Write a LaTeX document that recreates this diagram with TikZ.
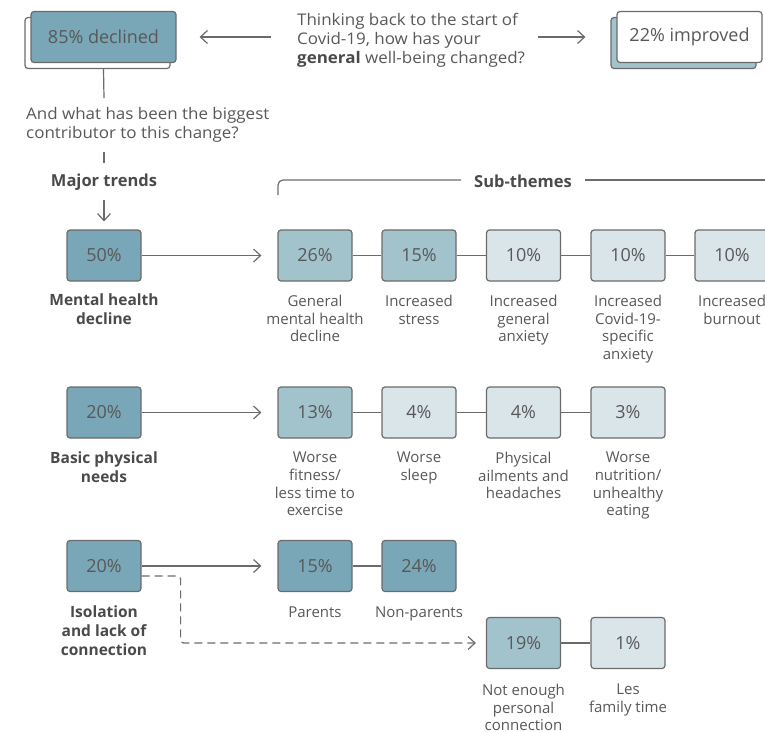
\documentclass[tikz,border=0pt]{standalone}
\usepackage{fontspec}
\setmainfont{Open Sans}
\newfontfamily\widefont{Open Sans}[FakeStretch=1.06]
\usetikzlibrary{arrows.meta}
\definecolor{tealdark}{HTML}{7AA7B7}
\definecolor{tealmid}{HTML}{A3C3CC}
\definecolor{teallight}{HTML}{DAE5EA}
\definecolor{edge}{HTML}{6B6B6B}
\definecolor{ink}{HTML}{585858}
\definecolor{inkbold}{HTML}{4A4A4A}
\begin{document}
\begin{tikzpicture}[x=1pt,y=-1pt,
  box/.style={draw=edge, line width=1.2pt, rounded corners=3pt,
    minimum width=74pt, minimum height=51pt, inner sep=0pt, text=ink,
    font=\fontsize{18}{20}\selectfont},
  widebox/.style={box, minimum width=145pt},
  dark/.style={box, fill=tealdark},
  mid/.style={box, fill=tealmid},
  light/.style={box, fill=teallight},
  lbl/.style={align=center, text=ink, inner sep=0pt, anchor=north,
    font=\fontsize{15}{17.6}\selectfont},
  major/.style={lbl, text=inkbold, font=\bfseries\fontsize{15.5}{18.7}\selectfont},
  head/.style={inner sep=0pt, anchor=base, text=inkbold,
    font=\bfseries\fontsize{16.5}{20}\selectfont},
  txt/.style={align=left, text=ink, inner sep=0pt, anchor=north west,
    font=\widefont\fontsize{16}{18.7}\selectfont},
  conn/.style={draw=edge, line width=1.2pt},
  tip/.style={conn, -{Straight Barb[length=7pt,width=13pt]}},
  dashconn/.style={tip, dash pattern=on 8pt off 5pt, rounded corners=3pt}
]
\useasboundingbox (0,0) rectangle (765,731);

% ---- headline question with the two outcomes ----
\node[widebox, fill=white] (decsh) at (97.5,43) {};
\node[widebox, fill=tealdark] (dec) at (103.5,37) {85\% declined};
\node[widebox, fill=tealmid] (impsh) at (683.5,43) {};
\node[widebox, fill=white] (imp) at (689.5,37) {22\% improved};
\node[txt] (q) at (297,13.5) {Thinking back to the start of\\Covid-19, how has your\\{\bfseries\color{inkbold}general} well-being changed?};
\draw[tip, shorten <=26pt, shorten >=23pt] (q.west |- dec.east) -- (dec.east);
\draw[tip, shorten <=13pt, shorten >=31pt] (q.east |- imp.west) -- (imp.west);

% ---- follow-up question ----
\node[txt] (q2) at (26,107) {And what has been the biggest\\contributor to this change?};
\coordinate (qtop) at (104,98);
\draw[conn] (decsh.south -| dec.south) -- (qtop);
\node[head] (mt) at (104,186) {Major trends};
\coordinate (tk1) at (104,152);
\coordinate (tk2) at (104,163);
\draw[conn] (tk1) -- (tk2);

% ---- major trends ----
\node[dark] (m1) at (104,255.5) {50\%};
\node[dark] (m2) at (104,412.5) {20\%};
\node[dark] (m3) at (104,566) {20\%};
\draw[tip, shorten <=10pt, shorten >=8pt] (mt.south) -- (m1.north);
\node[major] (m1l) at (104,294) {Mental health\\decline};
\node[major] (m2l) at (104,452) {Basic physical\\needs};
\node[major] (m3l) at (104,606) {Isolation\\and lack of\\connection};

% ---- sub-themes header ----
\node[head] (sub) at (523,187) {Sub-themes};
\coordinate (brk) at (278,195);
\coordinate (bre) at (765,180);
\draw[conn, rounded corners=5pt] (brk) |- ([xshift=-13pt]sub.west |- bre);
\draw[conn] ([xshift=13pt]sub.east |- bre) -- (bre);

% ---- row 1: mental health ----
\node[mid] (a1) at (315,255.5) {26\%};
\node[mid] (a2) at (419,255.5) {15\%};
\node[light] (a3) at (523.5,255.5) {10\%};
\node[light] (a4) at (628,255.5) {10\%};
\node[light] (a5) at (732,255.5) {10\%};
\draw[tip, shorten >=16pt] (m1) -- (a1);
\draw[conn] (a1) -- (a2) (a2) -- (a3) (a3) -- (a4) (a4) -- (a5);
\node[lbl] at (315,295) {General\\mental health\\decline};
\node[lbl] at (419,295) {Increased\\stress};
\node[lbl] at (523.5,295) {Increased\\general\\anxiety};
\node[lbl] at (628,295) {Increased\\Covid-19-\\specific\\anxiety};
\node[lbl] at (732,295) {Increased\\burnout};

% ---- row 2: basic physical needs ----
\node[mid] (b1) at (315,412.5) {13\%};
\node[light] (b2) at (419,412.5) {4\%};
\node[light] (b3) at (523.5,412.5) {4\%};
\node[light] (b4) at (628,412.5) {3\%};
\draw[tip, shorten >=16pt] (m2) -- (b1);
\draw[conn] (b1) -- (b2) (b2) -- (b3) (b3) -- (b4);
\node[lbl] at (315,452) {Worse\\fitness/\\less time to\\exercise};
\node[lbl] at (419,452) {Worse\\sleep};
\node[lbl] at (523.5,452) {Physical\\ailments and\\headaches};
\node[lbl] at (628,452) {Worse\\nutrition/\\unhealthy\\eating};

% ---- row 3: isolation ----
\node[dark] (c1) at (315,566) {15\%};
\node[dark] (c2) at (419,566) {24\%};
\draw[tip, shorten >=16pt] (m3) -- (c1);
\draw[conn] (c1) -- (c2);
\node[lbl] at (315,607) {Parents};
\node[lbl] at (419,607) {Non-parents};

\node[mid] (d1) at (523.5,643) {19\%};
\node[light] (d2) at (628,643) {1\%};
\draw[conn] (d1) -- (d2);
\draw[dashconn, shorten >=10pt] ([yshift=-10pt]m3.east) -- ++(39,0) |- (d1.west);
\node[lbl] at (523.5,684) {Not enough\\personal\\connection};
\node[lbl] at (628,684) {Les\\family time};
\end{tikzpicture}
\end{document}
